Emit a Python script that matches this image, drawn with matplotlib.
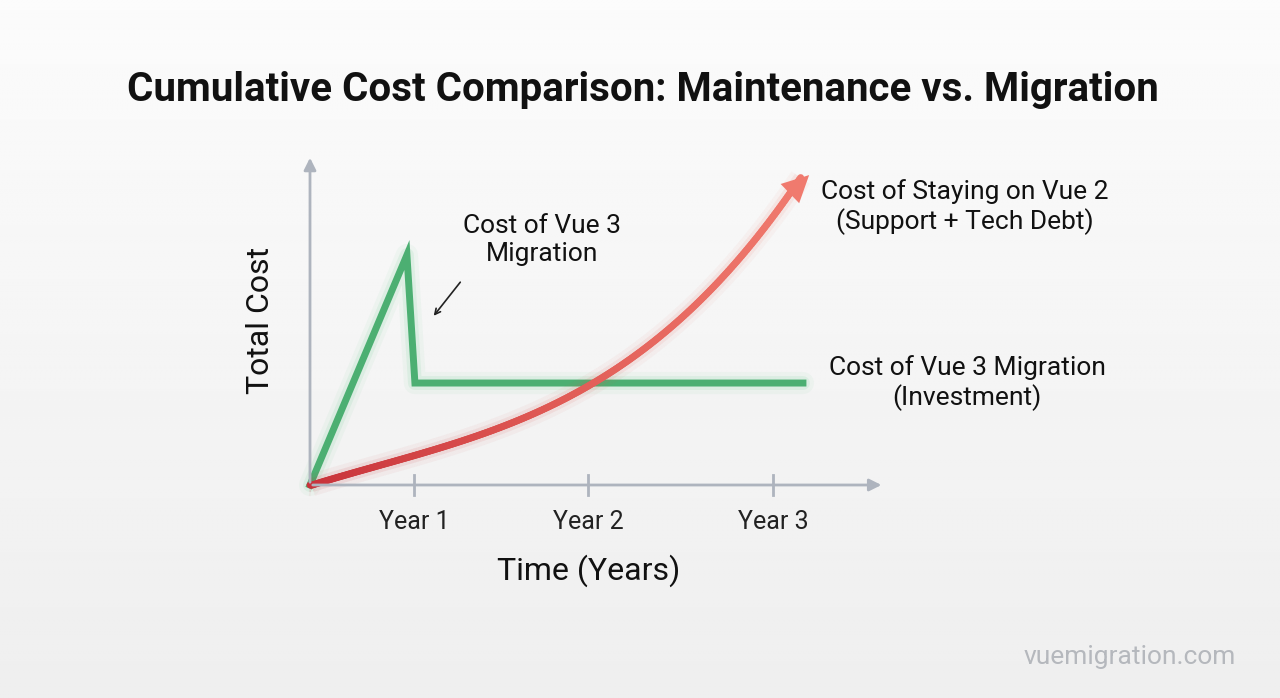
import numpy as np
import matplotlib
matplotlib.use("Agg")
import matplotlib.pyplot as plt
from matplotlib.collections import LineCollection
from matplotlib.colors import LinearSegmentedColormap

plt.rcParams['font.family'] = ['Roboto', 'DejaVu Sans']

year_ticks = [0.6, 1.6, 2.66]
year_labels = ["Year 1", "Year 2", "Year 3"]
green_x = [0, 0.557, 0.603, 2.833]
green_y = [0, 6.97, 3.09, 3.09]
red_x = [0, 0.3, 0.6, 1.0, 1.6, 2.0, 2.24, 2.5, 2.82]
red_y = [0, 0.4, 0.9, 1.6, 3.0, 4.4, 5.6, 7.1, 9.3]

W, H = 1280, 698
fig = plt.figure(figsize=(12.8, 6.98), dpi=100)
bg = fig.add_axes([0, 0, 1, 1])
grad = np.linspace(0, 1, 256)
bgimg = 0.985 - 0.05 * np.outer(grad, np.ones(256))
bg.imshow(bgimg, cmap='gray', vmin=0, vmax=1, aspect='auto', extent=[0, 1, 0, 1])
bg.set_xlim(0, 1); bg.set_ylim(0, 1); bg.axis('off')

ox, oy = 310, 485
ux, uy = 174, 33
ax = fig.add_axes([ox / W, (H - oy) / H, 3.3 * ux / W, 10 * uy / H])
ax.set_xlim(0, 3.3); ax.set_ylim(0, 10)
ax.patch.set_alpha(0)
for s in ax.spines.values():
    s.set_visible(False)
ax.set_xticks([]); ax.set_yticks([])
axc = '#aeb4be'
ax.annotate('', xy=(3.3, 0), xytext=(0, 0), annotation_clip=False,
            arrowprops=dict(arrowstyle='-|>', color=axc, lw=2, mutation_scale=18))
ax.annotate('', xy=(0, 10), xytext=(0, 0), annotation_clip=False,
            arrowprops=dict(arrowstyle='-|>', color=axc, lw=2, mutation_scale=18))
for t, l in zip(year_ticks, year_labels):
    ax.plot([t, t], [-0.3, 0.3], color=axc, lw=2, clip_on=False)
    ax.text(t, -0.75, l, ha='center', va='top', fontsize=18, color='#222')
ax.text(1.6, -2.1, "Time (Years)", ha='center', va='top', fontsize=23, color='#111')
ax.text(-0.2, 5, "Total Cost", ha='right', va='center', rotation=90, fontsize=23, color='#111')

# green glow
for lw, a in [(16, 0.05), (10, 0.1)]:
    ax.plot(green_x, green_y, color='#4cc27a', lw=lw, alpha=a, solid_joinstyle='round',
            solid_capstyle='round', clip_on=False)
ax.plot(green_x, green_y, color='#4caf72', lw=5, solid_joinstyle='miter', clip_on=False)

# red gradient curve (smooth fit through read points)
xs = np.array(red_x); ys = np.array(red_y)
coef = np.polyfit(xs, ys, 3)
fx = np.linspace(0, xs[-1], 300)
fy = np.polyval(coef, fx)
fy[0] = 0
pts = np.array([fx, fy]).T.reshape(-1, 1, 2)
segs = np.concatenate([pts[:-1], pts[1:]], axis=1)
cmap = LinearSegmentedColormap.from_list('r', ['#c8323a', '#e05a55', '#f07a6e'])
for lw, a in [(16, 0.05), (10, 0.1)]:
    lc = LineCollection(segs, cmap=cmap, linewidths=lw, alpha=a, clip_on=False)
    lc.set_array(fx[:-1]); ax.add_collection(lc)
lc = LineCollection(segs, cmap=cmap, linewidths=5, clip_on=False, capstyle='round')
lc.set_array(fx[:-1]); ax.add_collection(lc)
ax.annotate('', xy=(2.88, 9.45), xytext=(fx[-8], fy[-8]), annotation_clip=False,
            arrowprops=dict(arrowstyle='-|>', color='#f07a6e', lw=0, mutation_scale=48))

# labels
fig.text(643 / W, 1 - 90 / H, "Cumulative Cost Comparison: Maintenance vs. Migration",
         ha='center', va='center', fontsize=29, fontweight='bold', color='#111')
fig.text(965 / W, 1 - 207 / H, "Cost of Staying on Vue 2\n(Support + Tech Debt)",
         ha='center', va='center', fontsize=19, color='#111', linespacing=1.2)
fig.text(967 / W, 1 - 383 / H, "Cost of Vue 3 Migration\n(Investment)",
         ha='center', va='center', fontsize=19, color='#111', linespacing=1.2)
fig.text(542 / W, 1 - 240 / H, "Cost of Vue 3\nMigration",
         ha='center', va='center', fontsize=19, color='#111', linespacing=1.2)
fig.text(1130 / W, 1 - 657 / H, "vuemigration.com", ha='center', va='center',
         fontsize=19, color='#b5b8bd')
ax.annotate('', xy=((432 - ox) / ux, (oy - 318) / uy), xytext=((462 - ox) / ux, (oy - 280) / uy),
            annotation_clip=False, arrowprops=dict(arrowstyle='->', color='#222', lw=1.2))

fig.savefig('out.png', dpi=100)
